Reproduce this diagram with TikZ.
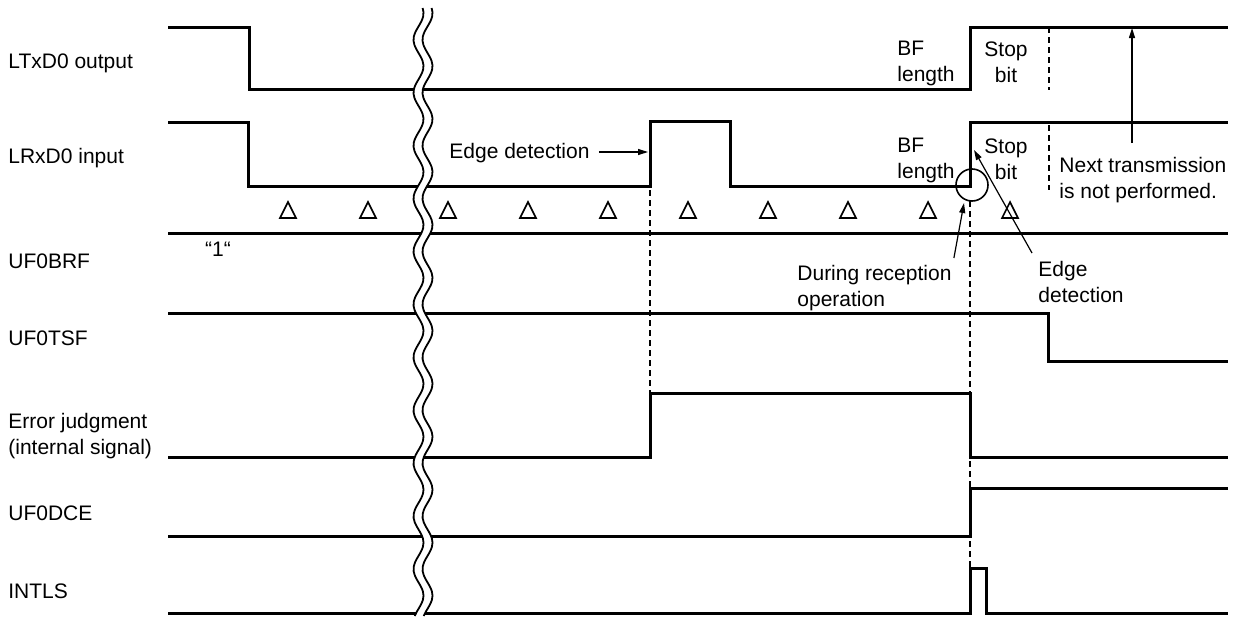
\documentclass[tikz,border=0pt]{standalone}
\usepackage{fontspec}
\setmainfont{Liberation Sans}
\usetikzlibrary{arrows.meta}
\begin{document}
\begin{tikzpicture}[x=0.5pt,y=-0.5pt,
    sig/.style={line width=1.5pt},
    guide/.style={line width=0.6pt,dash pattern=on 3pt off 2pt},
    lbl/.style={inner sep=0pt,font=\fontsize{10.5}{13}\selectfont},
    ptr/.style={line width=0.6pt,-{Triangle[length=5pt,width=3pt]}}]
    \useasboundingbox (0,0) rectangle (1240,616);
    \draw[sig](168,27)--(249,27)--(249,89)--(970,89)--(970,27)--(1228,27);
    \draw[sig](168,122)--(248,122)--(248,186)--(650,186)--(650,121)--(730,121)--(730,186)--(970,186)--(970,122)--(1228,122);
    \draw[sig](168,233)--(1228,233);
    \draw[sig](168,313)--(1048,313)--(1048,361)--(1228,361);
    \draw[sig](168,457)--(650,457)--(650,393)--(970,393)--(970,457)--(1228,457);
    \draw[sig](168,536)--(970,536)--(970,488)--(1228,488);
    \draw[sig](168,613)--(970,613)--(970,568)--(986,568)--(986,613)--(1228,613);
    \draw[white,line width=4pt,domain=8:616,samples=150,smooth,variable=\t] plot({423+5*sin(\t*6.8)},\t);
    \foreach \d in {-4.5,4.5}
        \draw[line width=0.9pt,domain=8:616,samples=150,smooth,variable=\t] plot({423+\d+5*sin(\t*6.8)},\t);
    \foreach \t in {288,368,448,528,608,688,768,848,928,1010}
        \draw[line width=0.8pt](\t-8,218)--(\t,202)--(\t+8,218)--cycle;
    \draw[guide](650,190)--(650,393);
    \draw[guide](970,201)--(970,568);
    \draw[guide](1049,27)--(1049,90);
    \draw[guide](1049,125)--(1049,190);
    \draw[line width=0.8pt](972,185) circle[radius=16];
    \coordinate (rxrise) at (648,152);
    \coordinate (txhigh) at (1132,28);
    \coordinate (cbot) at (964,203);
    \coordinate (rxedge) at (974,150);
    \node[lbl,anchor=base west] (ltx) at (8,68) {LTxD0 output};
    \node[lbl,anchor=base west] (lrx) at (8,163) {LRxD0 input};
    \node[lbl,anchor=base west] (brf) at (8,268) {UF0BRF};
    \node[lbl,anchor=base west] (tsf) at (8,345) {UF0TSF};
    \node[lbl,anchor=north west,align=left] (err) at (8,413) {Error judgment\\(internal signal)};
    \node[lbl,anchor=base west] (dce) at (8,520) {UF0DCE};
    \node[lbl,anchor=base west] (intls) at (8,598) {INTLS};
    \node[lbl] (one) at (218,249) {“1“};
    \node[lbl,anchor=north west,align=left] (bfa) at (897,41) {BF\\length};
    \node[lbl,anchor=north,align=center] (stopa) at (1006,41) {Stop\\bit};
    \node[lbl,anchor=north west,align=left] (bfb) at (897,138) {BF\\length};
    \node[lbl,anchor=north,align=center] (stopb) at (1006,138) {Stop\\bit};
    \node[lbl,anchor=north west,align=left] (nxt) at (1059,157) {Next transmission\\is not performed.};
    \node[lbl,anchor=base west] (edgea) at (449,158) {Edge detection};
    \node[lbl,anchor=north west,align=left] (drc) at (797,265) {During reception\\operation};
    \node[lbl,anchor=north west,align=left] (edgeb) at (1038,261) {Edge\\detection};
    \draw[ptr,shorten <=4.5pt](edgea.east|-rxrise)--(rxrise);
    \draw[ptr,shorten <=7pt](nxt.north-|txhigh)--(txhigh);
    \draw[ptr]([xshift=1pt,yshift=3.5pt]drc.north east)--(cbot);
    \draw[ptr]([xshift=-3pt,yshift=4pt]edgeb.north west)--(rxedge);
\end{tikzpicture}
\end{document}
